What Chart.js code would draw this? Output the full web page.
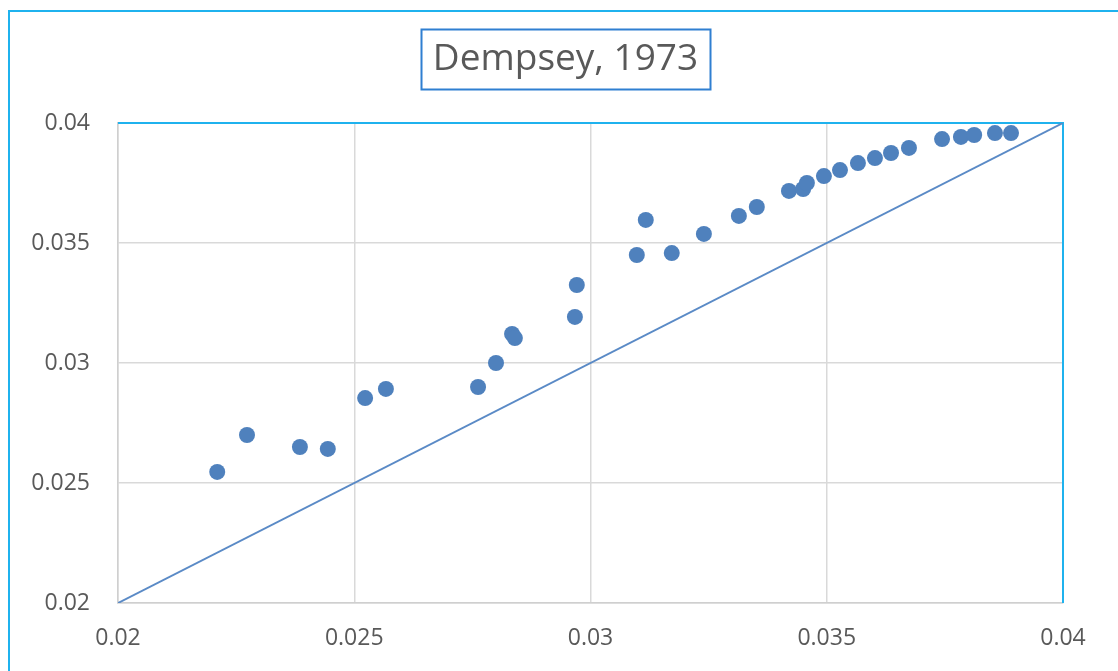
<!DOCTYPE html>
<html lang="en">
	<head>
		<meta charset="utf-8" />
		<title>Dempsey, 1973</title>
		<style>
			body { margin: 0; background: #fff; overflow: hidden; }
			#frame {
				position: absolute; left: 8px; top: 10px;
				width: 1200px; height: 800px;
				border: 2px solid #1fb2ee;
			}
			#chart { position: absolute; left: 0; top: 0; }
		</style>
	</head>
	<body>
		<div id="frame"></div>
		<canvas id="chart" width="1118" height="671"></canvas>

		<script src="https://cdn.jsdelivr.net/npm/chart.js"></script>
		<script>
			// measured points (x, y)
			var xVals = [0.0221, 0.02273, 0.02385, 0.02444, 0.02523, 0.02567, 0.02762, 0.028, 0.02834, 0.0284,
				0.02967, 0.02971, 0.03098, 0.03117, 0.03172, 0.0324, 0.03314, 0.03352, 0.0342, 0.0345,
				0.03458, 0.03494, 0.03528, 0.03566, 0.03602, 0.03636, 0.03674, 0.03744, 0.03784, 0.03812,
				0.03856, 0.0389];
			var yVals = [0.02546, 0.027, 0.0265, 0.02642, 0.02854, 0.02892, 0.029, 0.03, 0.03121, 0.03104,
				0.03192, 0.03325, 0.0345, 0.03596, 0.03458, 0.03538, 0.03613, 0.0365, 0.03717, 0.03725,
				0.0375, 0.03779, 0.03804, 0.03833, 0.03854, 0.03875, 0.03896, 0.03933, 0.03942, 0.0395,
				0.03958, 0.03958];

			// 1:1 reference line
			var lineX = [0.02, 0.04];
			var lineY = [0.02, 0.04];

			var xTicks = [0.02, 0.025, 0.03, 0.035, 0.04];
			var yTicks = [0.02, 0.025, 0.03, 0.035, 0.04];

			var titleText = "Dempsey, 1973";
			var fontFam = "'Open Sans', 'Liberation Sans', sans-serif";
			var textGray = "#595959";
			var gridGray = "#d9d9d9";
			var cyan = "#1fb2ee";

			var points = xVals.map(function (x, i) { return { x: x, y: yVals[i] }; });
			var diag = lineX.map(function (x, i) { return { x: x, y: lineY[i] }; });

			// title in its box + top/right plot border
			var frames = {
				id: "frames",
				beforeDatasetsDraw: function (chart) {
					var a = chart.chartArea, ctx = chart.ctx;
					ctx.save();
					ctx.strokeStyle = cyan;
					ctx.lineWidth = 2;
					ctx.beginPath();
					ctx.moveTo(a.left, a.top);
					ctx.lineTo(a.right, a.top);
					ctx.lineTo(a.right, a.bottom);
					ctx.stroke();
					ctx.restore();
				},
				afterDraw: function (chart) {
					var ctx = chart.ctx;
					ctx.save();
					ctx.font = "37px " + fontFam;
					var w = ctx.measureText(titleText).width;
					var cx = (chart.width + 13) / 2; // centred on the outer frame
					var cy = 59;
					ctx.fillStyle = textGray;
					ctx.textAlign = "center";
					ctx.textBaseline = "middle";
					ctx.fillText(titleText, cx, cy);
					ctx.strokeStyle = "#2f7fd1";
					ctx.lineWidth = 2;
					ctx.strokeRect(Math.round(cx - w / 2 - 12) + 0.5, cy - 30 + 0.5, Math.round(w + 24), 60);
					ctx.restore();
				},
			};

			function tickSetter(list) {
				return function (scale) {
					scale.ticks = list.map(function (v) { return { value: v }; });
				};
			}
			function fmt(v) { return String(+v.toFixed(3)); }

			new Chart(document.getElementById("chart"), {
				type: "scatter",
				data: {
					datasets: [
						{
							data: points,
							backgroundColor: "#4f81bd",
							borderWidth: 0,
							pointRadius: 8,
							pointHoverRadius: 8,
							order: 1,
						},
						{
							type: "line",
							data: diag,
							borderColor: "#5a8ac6",
							borderWidth: 2,
							pointRadius: 0,
							fill: false,
							order: 2,
						},
					],
				},
				options: {
					responsive: false,
					animation: false,
					devicePixelRatio: 1,
					layout: { padding: { left: 10, right: 55, top: 123, bottom: 0 } },
					plugins: {
						legend: { display: false },
						tooltip: { enabled: false },
						title: { display: false },
					},
					scales: {
						x: {
							type: "linear",
							min: 0.02,
							max: 0.04,
							afterBuildTicks: tickSetter(xTicks),
							afterFit: function (s) { s.height = 68; },
							grid: { color: gridGray, lineWidth: 1.5, drawTicks: false },
							border: { color: "#cfcfcf", width: 1.5 },
							ticks: {
								color: textGray,
								padding: 22,
								maxRotation: 0,
								font: { family: fontFam, size: 23 },
								callback: fmt,
							},
						},
						y: {
							type: "linear",
							min: 0.02,
							max: 0.04,
							afterBuildTicks: tickSetter(yTicks),
							afterFit: function (s) { s.width = 108; },
							grid: { color: gridGray, lineWidth: 1.5, drawTicks: false },
							border: { color: "#cfcfcf", width: 1.5 },
							ticks: {
								color: textGray,
								padding: 28,
								font: { family: fontFam, size: 23 },
								callback: fmt,
							},
						},
					},
				},
				plugins: [frames],
			});
		</script>
	</body>
</html>
